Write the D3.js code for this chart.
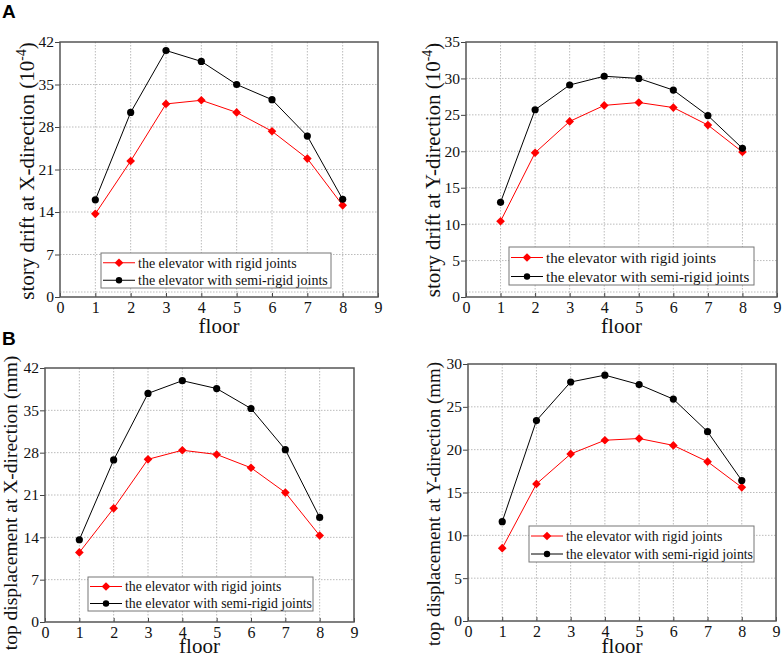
<!DOCTYPE html>
<html>
<head>
<meta charset="utf-8">
<script src="https://cdn.jsdelivr.net/npm/d3@7"></script>
<style>
  body { margin: 0; background: #fff; }
  svg { display: block; }
</style>
</head>
<body>
<script>
// floors and tick values
const floors = [1, 2, 3, 4, 5, 6, 7, 8];
const floorTicks = [0, 1, 2, 3, 4, 5, 6, 7, 8, 9];
const ticks42 = [0, 7, 14, 21, 28, 35, 42];
const ticks35 = [0, 5, 10, 15, 20, 25, 30, 35];
const ticks30 = [0, 5, 10, 15, 20, 25, 30];

// A: story drift (10^-4)
const driftXRigid = [13.7, 22.4, 31.8, 32.4, 30.4, 27.3, 22.8, 15.1];
const driftXSemi  = [16.0, 30.4, 40.6, 38.8, 35.0, 32.5, 26.5, 16.1];
const driftYRigid = [10.4, 19.8, 24.1, 26.3, 26.7, 26.0, 23.6, 19.9];
const driftYSemi  = [13.0, 25.7, 29.1, 30.3, 30.0, 28.4, 24.9, 20.4];

// B: top displacement (mm)
const dispXRigid = [11.5, 18.8, 26.9, 28.4, 27.7, 25.5, 21.4, 14.3];
const dispXSemi  = [13.6, 26.8, 37.8, 39.9, 38.6, 35.3, 28.5, 17.3];
const dispYRigid = [8.5, 16.0, 19.5, 21.1, 21.3, 20.5, 18.6, 15.6];
const dispYSemi  = [11.6, 23.4, 27.9, 28.7, 27.6, 25.9, 22.1, 16.4];

const legendLabels = ['the elevator with rigid joints', 'the elevator with semi-rigid joints'];

const serif = '"Liberation Serif", "Times New Roman", serif';

const svg = d3.select('body').append('svg')
  .attr('width', 782)
  .attr('height', 658);

// panel letters
svg.append('text').attr('x', 2).attr('y', 18)
  .attr('font-family', '"Liberation Sans", Arial, sans-serif')
  .attr('font-weight', 'bold').attr('font-size', 19).text('A');
svg.append('text').attr('x', 2).attr('y', 345)
  .attr('font-family', '"Liberation Sans", Arial, sans-serif')
  .attr('font-weight', 'bold').attr('font-size', 19).text('B');

const panels = [
  { left: 60, right: 378, top: 42, bottom: 297, yMax: 42, yTicks: ticks42,
    rigid: driftXRigid, semi: driftXSemi, title: 'story drift at X-direction (', sup: true,
    titleSize: 21, titleX: 34, titleY: 171, floorY: 333, extraGrid: true,
    legend: { x: 101, y: 253, w: 230, h: 35, font: 14 } },
  { left: 466, right: 777, top: 42, bottom: 297, yMax: 35, yTicks: ticks35,
    rigid: driftYRigid, semi: driftYSemi, title: 'story drift at Y-direction (', sup: true,
    titleSize: 21, titleX: 440, titleY: 170, floorY: 333, extraGrid: true,
    legend: { x: 509, y: 247, w: 245, h: 38, font: 15 } },
  { left: 45, right: 354, top: 368, bottom: 622, yMax: 42, yTicks: ticks42,
    rigid: dispXRigid, semi: dispXSemi, title: 'top displacement at X-direction (mm)', sup: false,
    titleSize: 19.5, titleX: 17, titleY: 503, floorY: 653, extraGrid: false,
    legend: { x: 88, y: 577, w: 225, h: 34, font: 13.8 } },
  { left: 468, right: 776, top: 364, bottom: 621, yMax: 30, yTicks: ticks30,
    rigid: dispYRigid, semi: dispYSemi, title: 'top displacement at Y-direction (mm)', sup: false,
    titleSize: 19, titleX: 440, titleY: 504, floorY: 653, extraGrid: false,
    legend: { x: 529, y: 526, w: 225, h: 36, font: 13.8 } }
];

// square diamond marker for the rigid series
const diamond = d3.symbol().type(d3.symbolDiamond2).size(48);

panels.forEach(p => {
  const g = svg.append('g');
  const x = d3.scaleLinear().domain([0, 9]).range([p.left, p.right]);
  const y = d3.scaleLinear().domain([0, p.yMax]).range([p.bottom, p.top]);

  // dotted grid
  const grid = g.append('g')
    .attr('stroke', '#bbb')
    .attr('stroke-width', 1)
    .attr('stroke-dasharray', '1.5,1.5');
  grid.selectAll('.vg').data(floorTicks.slice(1, -1)).enter().append('line')
    .attr('x1', d => x(d)).attr('x2', d => x(d))
    .attr('y1', p.top).attr('y2', p.bottom);
  grid.selectAll('.hg').data(p.yTicks.slice(1, -1)).enter().append('line')
    .attr('x1', p.left).attr('x2', p.right)
    .attr('y1', d => y(d)).attr('y2', d => y(d));
  if (p.extraGrid) {
    grid.append('line')
      .attr('x1', p.left).attr('x2', p.right)
      .attr('y1', p.bottom - 5).attr('y2', p.bottom - 5);
  }

  // axes
  const xAxis = g.append('g')
    .attr('transform', `translate(0,${p.bottom})`)
    .call(d3.axisBottom(x).tickValues(floorTicks).tickSize(-4).tickPadding(5).tickFormat(d3.format('d')));
  const yAxis = g.append('g')
    .attr('transform', `translate(${p.left},0)`)
    .call(d3.axisLeft(y).tickValues(p.yTicks).tickSize(5).tickPadding(1).tickFormat(d3.format('d')));
  [xAxis, yAxis].forEach(a => {
    a.attr('font-family', serif);
    a.select('.domain').remove();
    a.selectAll('line').attr('stroke', '#444');
    a.selectAll('text').attr('fill', '#111');
  });
  xAxis.attr('font-size', 16);
  yAxis.attr('font-size', 15.5);

  // frame
  g.append('rect')
    .attr('x', p.left).attr('y', p.top)
    .attr('width', p.right - p.left).attr('height', p.bottom - p.top)
    .attr('fill', 'none').attr('stroke', '#555').attr('stroke-width', 1.5);

  // series
  const line = d3.line().x((d, i) => x(floors[i])).y(d => y(d));
  const series = [
    { data: p.rigid, color: '#ff0000' },
    { data: p.semi, color: '#000' }
  ];
  series.forEach((s, si) => {
    g.append('path').datum(s.data)
      .attr('d', line)
      .attr('fill', 'none')
      .attr('stroke', s.color)
      .attr('stroke-width', 1);
    if (si === 0) {
      g.selectAll(null).data(s.data).enter().append('path')
        .attr('d', diamond)
        .attr('transform', (d, i) => `translate(${x(floors[i])},${y(d)})`)
        .attr('fill', s.color);
    } else {
      g.selectAll(null).data(s.data).enter().append('circle')
        .attr('cx', (d, i) => x(floors[i]))
        .attr('cy', d => y(d))
        .attr('r', 3.6)
        .attr('fill', s.color);
    }
  });

  // legend
  const L = p.legend;
  const lg = g.append('g');
  lg.append('rect')
    .attr('x', L.x).attr('y', L.y).attr('width', L.w).attr('height', L.h)
    .attr('fill', '#fff').attr('stroke', '#777').attr('stroke-width', 1);
  const rowH = L.h / 2;
  legendLabels.forEach((lab, i) => {
    const cy = L.y + rowH * (i + 0.5) + 1;
    const lx1 = L.x + 2, lx2 = L.x + 34;
    lg.append('line')
      .attr('x1', lx1).attr('x2', lx2).attr('y1', cy).attr('y2', cy)
      .attr('stroke', series[i].color).attr('stroke-width', 1);
    if (i === 0) {
      lg.append('path').attr('d', diamond)
        .attr('transform', `translate(${(lx1 + lx2) / 2},${cy})`)
        .attr('fill', series[i].color);
    } else {
      lg.append('circle').attr('cx', (lx1 + lx2) / 2).attr('cy', cy).attr('r', 3.2)
        .attr('fill', series[i].color);
    }
    lg.append('text')
      .attr('x', lx2 + 3).attr('y', cy).attr('dy', '0.35em')
      .attr('font-family', serif).attr('font-size', L.font).attr('fill', '#111')
      .text(lab);
  });

  // axis titles
  const t = g.append('text')
    .attr('transform', `translate(${p.titleX},${p.titleY}) rotate(-90)`)
    .attr('text-anchor', 'middle')
    .attr('font-family', serif)
    .attr('font-size', p.titleSize)
    .attr('fill', '#111');
  if (p.sup) {
    t.append('tspan').text(p.title + '10');
    t.append('tspan').attr('font-size', p.titleSize * 0.65).attr('dy', -8).text('-4');
    t.append('tspan').attr('dy', 8).text(')');
  } else {
    t.text(p.title);
  }

  g.append('text')
    .attr('x', (p.left + p.right) / 2).attr('y', p.floorY)
    .attr('text-anchor', 'middle')
    .attr('font-family', serif).attr('font-size', 21).attr('fill', '#111')
    .text('floor');
});
</script>
</body>
</html>
